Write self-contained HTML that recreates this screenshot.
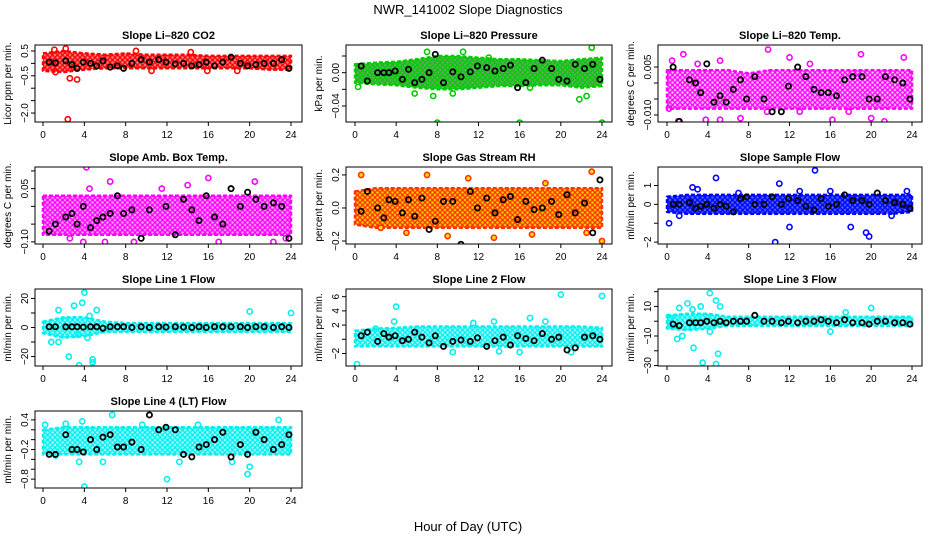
<!DOCTYPE html>
<html><head><meta charset="utf-8"><style>
html,body{margin:0;padding:0;background:#fff;}
svg{display:block;font-family:"Liberation Sans",Arial,sans-serif;}
</style></head><body>
<svg id="chart" width="936" height="540" viewBox="0 0 936 540">
<defs id="defs"></defs>
<text x="468" y="14" text-anchor="middle" font-size="13">NWR_141002  Slope Diagnostics</text>
<text x="468" y="531" text-anchor="middle" font-size="13">Hour of Day (UTC)</text>
</svg>
<script>
// ---- data ----
const xTicks = [0,4,8,12,16,20,24];
const blackHours = [0.6,1.2,2.2,2.8,3.3,3.9,4.6,5.2,5.8,6.5,7.2,7.8,8.6,9.5,10.3,11.2,11.9,12.8,13.6,14.4,15.1,15.8,16.6,17.4,18.2,19.1,19.8,20.6,21.4,22.3,23.1,23.8];
const bandHours = [0,2,4,6,8,10,12,14,16,18,20,22,24];

const p1Black = [0.05,0.02,0.1,-0.05,-0.2,0.05,0.0,-0.1,0.1,-0.15,-0.1,-0.2,0.0,0.15,0.05,0.15,0.05,-0.02,0.0,-0.1,-0.05,0.05,-0.1,0.05,0.25,0.0,-0.1,-0.05,0.0,0.0,0.15,-0.2];
const p1BandLo = [-0.3,-0.35,-0.25,-0.2,-0.2,-0.2,-0.2,-0.2,-0.2,-0.2,-0.2,-0.25,-0.25];
const p1BandHi = [0.4,0.5,0.4,0.35,0.4,0.35,0.35,0.35,0.3,0.3,0.3,0.3,0.3];
const p1Out = [[1.2,-0.35],[2.2,0.6],[2.6,-0.6],[3.3,-0.65],[2.4,-2.25],[9,0.5],[14.3,0.45],[10.5,-0.3],[15.9,-0.3],[1.1,0.55],[18.8,-0.3]];

const p2Black = [0.008,-0.01,0.0,0.0,0.0,0.002,-0.008,0.004,-0.012,-0.008,0.0,0.022,-0.012,0.001,-0.005,0.001,0.008,0.006,0.002,0.005,0.009,-0.018,-0.012,0.005,0.015,0.005,-0.008,-0.01,0.01,0.005,0.01,-0.008];
const p2BandLo = [-0.012,-0.014,-0.015,-0.018,-0.02,-0.02,-0.018,-0.016,-0.016,-0.015,-0.015,-0.018,-0.016];
const p2BandHi = [0.01,0.012,0.013,0.016,0.02,0.02,0.018,0.016,0.016,0.015,0.014,0.016,0.018];
const p2Out = [[8,-0.06],[16,-0.06],[24,-0.06],[7,0.025],[10.5,0.025],[23,0.03],[21.8,-0.032],[22.5,-0.028],[7.6,-0.028],[5.8,-0.025],[9.5,-0.025],[0.3,-0.017],[13,0.018],[17,-0.018]];

const p3Black = [0.005,-0.012,0.001,0.0,-0.003,0.006,-0.006,-0.004,-0.006,-0.002,0.001,-0.005,0.002,-0.005,-0.009,-0.009,-0.001,0.005,0.002,-0.002,-0.003,-0.003,-0.004,0.001,0.002,0.002,-0.005,-0.005,0.002,0.001,0.0,-0.005];
const p3BandLo = [-0.008,-0.008,-0.008,-0.008,-0.008,-0.008,-0.008,-0.008,-0.008,-0.008,-0.008,-0.008,-0.008];
const p3BandHi = [0.004,0.004,0.004,0.004,0.003,0.004,0.004,0.004,0.004,0.004,0.004,0.004,0.004];
const p3Out = [[0.5,0.007],[1.6,0.009],[3,0.006],[5.2,0.007],[9.9,0.0105],[12,0.008],[19,0.009],[23.2,0.008],[1.1,-0.012],[3.8,-0.0115],[5.2,-0.0115],[7.2,-0.011],[13,-0.009],[16.2,-0.0115],[20,-0.011],[21.3,-0.012],[9.8,-0.009],[0.2,-0.008],[17.8,-0.009],[14,0.006]];

const p4Black = [-0.07,-0.05,-0.03,-0.02,-0.05,0.0,-0.06,-0.04,-0.03,-0.02,0.03,-0.02,-0.01,-0.09,-0.01,-0.12,0.0,-0.08,0.02,-0.01,-0.04,0.03,-0.03,-0.05,0.05,0.0,0.04,0.02,0.0,0.01,0.0,-0.09];
const p4BandLo = [-0.08,-0.08,-0.08,-0.08,-0.08,-0.08,-0.08,-0.08,-0.08,-0.08,-0.08,-0.08,-0.08];
const p4BandHi = [0.03,0.03,0.03,0.03,0.03,0.03,0.03,0.03,0.03,0.03,0.03,0.03,0.03];
const p4Out = [[4.2,0.11],[6.5,0.07],[4.5,0.05],[10.5,-0.12],[16,0.08],[20.5,0.07],[14,0.06],[2.6,-0.09],[6,-0.1],[8.8,-0.1],[17,-0.1],[22.3,-0.1],[23.5,-0.09],[11.5,0.05],[3.9,-0.1]];

const p5Black = [-0.02,0.1,0.0,-0.06,0.05,0.04,-0.03,0.05,-0.05,0.06,-0.13,-0.08,0.04,0.04,-0.22,0.1,0.0,0.06,-0.03,0.05,0.07,-0.07,0.04,-0.01,0.0,0.04,-0.04,0.08,-0.03,0.03,-0.15,0.17];
const p5BandLo = [-0.1,-0.12,-0.12,-0.12,-0.12,-0.12,-0.12,-0.12,-0.12,-0.12,-0.12,-0.12,-0.12];
const p5BandHi = [0.1,0.12,0.12,0.12,0.12,0.12,0.12,0.12,0.12,0.12,0.12,0.12,0.12];
const p5Out = [[0.6,0.2],[7,0.2],[23,0.22],[5,-0.15],[9,-0.17],[13.5,-0.18],[17.2,-0.16],[24,-0.2],[2.5,-0.12],[18.5,0.15],[11,0.18],[22.5,-0.15]];

const p6Black = [0.0,0.0,0.1,-0.2,-0.1,0.0,-0.2,0.0,-0.1,-0.4,0.3,0.4,0.0,0.0,0.4,0.0,0.3,0.2,-0.1,-0.3,0.3,-0.1,0.0,0.5,0.2,0.2,0.0,0.6,0.2,0.1,0.0,-0.2];
const p6BandLo = [-0.4,-0.5,-0.5,-0.5,-0.5,-0.5,-0.5,-0.5,-0.5,-0.5,-0.5,-0.5,-0.4];
const p6BandHi = [0.4,0.5,0.5,0.5,0.5,0.5,0.5,0.5,0.5,0.5,0.5,0.5,0.5];
const p6Out = [[4.8,1.4],[14.5,1.8],[11,1.1],[2.5,0.9],[0.2,-1],[10.6,-2.0],[19.5,-1.5],[19.8,-1.7],[18,-1.2],[12,-1.2],[1.2,-0.6],[3,0.8],[16,0.7],[23.5,0.7],[7,0.6],[13,0.7],[22,-0.6]];

const p7Black = [0.5,0.5,0.4,0.5,0.5,0.3,0.5,0.5,-0.5,0.5,0.5,0.5,0,0.5,0,0.5,0.3,0.5,0.3,0,0.5,0,0.5,0.5,0.5,0.5,0,0.5,0.5,0,0.5,0];
const p7BandLo = [-4,-7,-6,-3,-3,-3,-3,-3,-3,-3,-3,-3,-3];
const p7BandHi = [4,7,7,4,3,3,3,3,3,3,3,3,3];
const p7Out = [[2.5,-20],[3.5,-26],[4,24],[4.8,-22],[4.8,-24],[3.8,17],[3,15],[1.5,12],[5.2,12],[0.8,-10],[1.5,-10],[4.3,-7],[20,11],[24,10],[3.4,-5],[4.5,8]];

const p8Black = [0.5,1.0,-0.3,0.8,0.3,0.5,-0.2,0.0,1.0,0.3,-0.5,0.5,-1.0,-0.3,-0.1,-0.3,0.2,-1.0,-0.2,0.3,-0.8,0.5,0.1,-0.2,0.8,0.0,0.3,-1.5,-1.2,0.3,0.5,0.0];
const p8BandLo = [-1,-1,-1,-1,-1,-1,-1,-1,-1,-1,-1,-1,-1];
const p8BandHi = [1.2,1.5,1.6,1.8,1.8,1.8,1.8,1.8,1.8,1.8,1.8,1.8,1.6];
const p8Out = [[0.2,-3.5],[4,4.6],[3.8,2.5],[20,6.3],[24,6.1],[11.5,2.3],[13.5,2.5],[17,3],[18.5,2.5],[16,-1.8],[14,-1.7],[21,-1.8],[9.5,-1.8],[2,1.5]];

const p9Black = [-2,-3,-1,-1,-1,0,-1,0,-1,0,0,0,4,0,0,-1,0,-1,0,0,1,0,-1,1,-1,-1,-2,0,0,-1,-1,-2];
const p9BandLo = [-5,-6,-5,-3,-3,-3,-3,-3,-3,-3,-3,-3,-3];
const p9BandHi = [4,5,5,3,3,3,3,3,3,3,3,3,3];
const p9Out = [[4.2,19],[4.8,14],[5.2,10],[1.2,9],[2,12],[2.5,8],[3.3,10],[3.5,-28],[4.8,-29],[5,-22],[2.6,-18],[1,-12],[1.5,-10],[4.2,-7],[20,9],[17.5,6],[16,-7],[0.3,2]];

const p10Black = [-0.3,-0.3,0.1,-0.2,-0.2,-0.25,0.0,-0.2,0.05,0.1,-0.15,-0.15,-0.05,-0.2,0.5,0.2,0.25,0.2,-0.3,-0.35,-0.15,-0.1,0.0,0.15,-0.35,-0.1,-0.3,0.15,0.0,-0.2,-0.1,0.1];
const p10BandLo = [-0.3,-0.3,-0.3,-0.3,-0.3,-0.3,-0.3,-0.3,-0.3,-0.3,-0.3,-0.3,-0.3];
const p10BandHi = [0.2,0.25,0.25,0.25,0.25,0.25,0.25,0.25,0.25,0.25,0.25,0.25,0.25];
const p10Out = [[0.2,0.3],[4,-0.95],[12,-0.8],[6.7,0.5],[19.8,-0.7],[3.5,-0.45],[5.8,-0.45],[13.2,-0.45],[18.3,-0.45],[22.8,0.4],[2.2,0.32],[3.8,0.37],[15,0.3],[20,-0.55],[1.2,-0.32],[9.6,0.3]];

// ---- layout (not data) ----
const cols = [{l:35,r:302,x0:43,x24:291},{l:346,r:612,x0:355,x24:602},{l:658,r:922,x0:667,x24:912}];
const rowTops = [45,167,289,411];
const boxH = 77;
const panels = [
 {name:'co2',title:'Slope Li\u2013820 CO2',ylab:'Licor ppm per min.',c:0,r:0,ymin:-2.36,ymax:0.74,ticks:[0.5,0,-0.5,-1,-1.5,-2],labels:{'0.5':'0.5','-0.5':'\u22120.5','-2':'\u22122.0'},col:'#ff0000',bg:'#ff8080',black:p1Black,lo:p1BandLo,hi:p1BandHi,out:p1Out},
 {name:'pressure',title:'Slope Li\u2013820 Pressure',ylab:'kPa per min.',c:1,r:0,ymin:-0.0592,ymax:0.0332,ticks:[0.02,0,-0.02,-0.04],labels:{'0':'0.00','-0.04':'\u22120.04'},col:'#00cc00',bg:'#66aa66',black:p2Black,lo:p2BandLo,hi:p2BandHi,out:p2Out},
 {name:'li820-temp',title:'Slope Li\u2013820 Temp.',ylab:'degrees C per min.',c:2,r:0,ymin:-0.0122,ymax:0.0119,ticks:[0.005,0,-0.005,-0.01],labels:{'0.005':'0.005','-0.01':'\u22120.010'},col:'#ff00ff',bg:'#ffc0ff',black:p3Black,lo:p3BandLo,hi:p3BandHi,out:p3Out},
 {name:'amb-box-temp',title:'Slope Amb. Box Temp.',ylab:'degrees C per min.',c:0,r:1,ymin:-0.106,ymax:0.111,ticks:[0.1,0.05,0,-0.05,-0.1],labels:{'0.05':'0.05','-0.1':'\u22120.10'},col:'#ff00ff',bg:'#ffa0ff',black:p4Black,lo:p4BandLo,hi:p4BandHi,out:p4Out},
 {name:'gas-stream-rh',title:'Slope Gas Stream RH',ylab:'percent per min.',c:1,r:1,ymin:-0.218,ymax:0.248,ticks:[0.2,0,-0.2],labels:{'0.2':'0.2','0':'0.0','-0.2':'\u22120.2'},col:'#ff3300',bg:'#ffcc00',black:p5Black,lo:p5BandLo,hi:p5BandHi,out:p5Out},
 {name:'sample-flow',title:'Slope Sample Flow',ylab:'ml/min per min.',c:2,r:1,ymin:-2.1,ymax:1.98,ticks:[1,0,-1,-2],labels:{'1':'1','0':'0','-2':'\u22122'},col:'#0000ff',bg:'#4466ff',black:p6Black,lo:p6BandLo,hi:p6BandHi,out:p6Out},
 {name:'line1-flow',title:'Slope Line 1 Flow',ylab:'ml/min per min.',c:0,r:2,ymin:-26.5,ymax:26.5,ticks:[20,10,0,-10,-20],labels:{'20':'20','0':'0','-20':'\u221220'},col:'#00f0f0',bg:'#a0ffff',black:p7Black,lo:p7BandLo,hi:p7BandHi,out:p7Out},
 {name:'line2-flow',title:'Slope Line 2 Flow',ylab:'ml/min per min.',c:1,r:2,ymin:-3.76,ymax:7.08,ticks:[6,4,2,0,-2],labels:{'6':'6','4':'4','2':'2','-2':'\u22122'},col:'#00f0f0',bg:'#a0ffff',black:p8Black,lo:p8BandLo,hi:p8BandHi,out:p8Out},
 {name:'line3-flow',title:'Slope Line 3 Flow',ylab:'ml/min per min.',c:2,r:2,ymin:-30.3,ymax:21.8,ticks:[20,10,0,-10,-20,-30],labels:{'10':'10','-10':'\u221210','-30':'\u221230'},col:'#00f0f0',bg:'#a0ffff',black:p9Black,lo:p9BandLo,hi:p9BandHi,out:p9Out},
 {name:'line4-flow',title:'Slope Line 4 (LT) Flow',ylab:'ml/min per min.',c:0,r:3,ymin:-0.98,ymax:0.58,ticks:[0.4,0.2,0,-0.2,-0.4,-0.6,-0.8],labels:{'0.4':'0.4','-0.2':'\u22120.2','-0.8':'\u22120.8'},col:'#00f0f0',bg:'#a0ffff',black:p10Black,lo:p10BandLo,hi:p10BandHi,out:p10Out}
];

const NS='http://www.w3.org/2000/svg';
const svg=document.getElementById('chart');
const defs=document.getElementById('defs');
function mk(tag,attrs,parent){const e=document.createElementNS(NS,tag);for(const k in attrs)e.setAttribute(k,attrs[k]);parent.appendChild(e);return e;}

panels.forEach(p=>{
  const C=cols[p.c], top=rowTops[p.r], bot=top+boxH;
  const xs=h=>C.x0+(h/24)*(C.x24-C.x0);
  const ys=v=>bot-(v-p.ymin)/(p.ymax-p.ymin)*boxH;
  // stipple pattern mimicking dense overlapping circles
  const pid='pat-'+p.name;
  const pat=mk('pattern',{id:pid,patternUnits:'userSpaceOnUse',width:5,height:5},defs);
  mk('rect',{x:0,y:0,width:5,height:5,fill:p.bg},pat);
  mk('circle',{cx:2.5,cy:2.5,r:1.9,fill:'none',stroke:p.col,'stroke-width':1.3},pat);
  const g=mk('g',{},svg);
  
  
  const cid='clip-'+p.name;
  const cp=mk('clipPath',{id:cid},g);
  mk('rect',{x:C.l,y:top,width:C.r-C.l,height:boxH},cp);
  const t=mk('text',{x:(C.l+C.r)/2,y:top-6,'text-anchor':'middle','font-size':11,'font-weight':'bold'},g);
  t.textContent=p.title;
  
  
  const yl=mk('text',{transform:`translate(${C.l-24},${(top+bot)/2}) rotate(-90)`,'text-anchor':'middle','font-size':10},g);
  yl.textContent=p.ylab;
  
  
  const plot=mk('g',{'clip-path':`url(#${cid})`},g);
  
  
  let d='';
  bandHours.forEach((h,i)=>{d+=(i?'L':'M')+xs(h).toFixed(1)+','+ys(p.hi[i]).toFixed(1);});
  for(let i=bandHours.length-1;i>=0;i--) d+='L'+xs(bandHours[i]).toFixed(1)+','+ys(p.lo[i]).toFixed(1);
  const band=mk('path',{d:d+'Z',fill:`url(#${pid})`,stroke:p.col,'stroke-width':2.5,'stroke-linejoin':'round','stroke-dasharray':'4 2'},plot);
  
  
  p.out.forEach(o=>{
    const c=mk('circle',{cx:xs(o[0]),cy:ys(o[1]),r:2.6,fill:p.name==='gas-stream-rh'?'#ffdd00':'none',stroke:p.col,'stroke-width':1.6},plot);
    
    
  });
  blackHours.forEach((h,i)=>{
    const c=mk('circle',{cx:xs(h),cy:ys(p.black[i]),r:2.6,fill:'none',stroke:'#000','stroke-width':1.8},plot);
    
    
  });
  const box=mk('rect',{x:C.l,y:top,width:C.r-C.l,height:boxH,fill:'none',stroke:'#000','stroke-width':1},g);
  
  
  p.ticks.forEach(v=>{
    const y=ys(v);
    mk('line',{x1:C.l-4,x2:C.l,y1:y,y2:y,stroke:'#000'},g);
    const lab=p.labels[String(v)];
    if(lab){const tt=mk('text',{transform:`translate(${C.l-7},${y}) rotate(-90)`,'text-anchor':'middle','font-size':10},g);tt.textContent=lab;
      
      }
  });
  mk('line',{x1:C.l,x2:C.l,y1:ys(p.ticks[0]),y2:ys(p.ticks[p.ticks.length-1]),stroke:'#000'},g);
  mk('line',{x1:C.x0,x2:C.x24,y1:bot,y2:bot,stroke:'#000'},g);
  xTicks.forEach(h=>{
    const x=xs(h);
    mk('line',{x1:x,x2:x,y1:bot,y2:bot+4,stroke:'#000'},g);
    const tt=mk('text',{x:x,y:bot+16,'text-anchor':'middle','font-size':10},g);
    tt.textContent=h;
    
    
  });
});
</script>
</body></html>
